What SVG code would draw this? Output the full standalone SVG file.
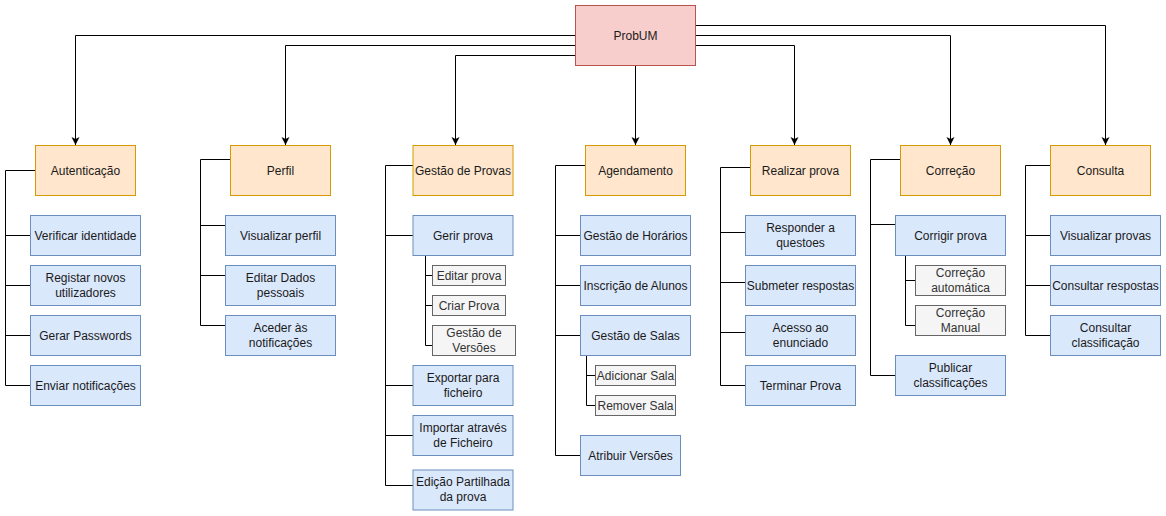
<svg xmlns="http://www.w3.org/2000/svg" width="1166" height="516" viewBox="0 0 1166 516">
<defs>
<marker id="arr" markerWidth="10" markerHeight="10" refX="8" refY="4" orient="auto" markerUnits="userSpaceOnUse">
<path d="M0,0 L8,4 L0,8 L2,4 Z" fill="#000"/>
</marker>
<style>
text{font-family:"Liberation Sans",Arial,Helvetica,sans-serif;font-size:12px;fill:#1a1a1a;text-anchor:middle}
.root rect{fill:#f8cecc;stroke:#b85450;stroke-width:1}
.cat rect{fill:#ffe6cc;stroke:#d79b00;stroke-width:1}
.leaf rect{fill:#dae8fc;stroke:#6c8ebf;stroke-width:1}
.sub rect{fill:#f5f5f5;stroke:#666666;stroke-width:1}
.sub text{fill:#333333}
.c{fill:none;stroke:#000;stroke-width:1}
.a{fill:none;stroke:#000;stroke-width:1;marker-end:url(#arr)}
</style>
</defs>
<rect width="1166" height="516" fill="#fff"/>

<g id="connectors">
<!-- root connectors -->
<path class="a" d="M575.5,35.5 H75.5 V145"/>
<path class="a" d="M575.5,45.5 H285.5 V145"/>
<path class="a" d="M575.5,55.5 H455.5 V145"/>
<path class="a" d="M635.5,65.5 V145"/>
<path class="a" d="M695.5,45.5 H794.5 V145"/>
<path class="a" d="M695.5,35.5 H950.5 V145"/>
<path class="a" d="M695.5,25.5 H1105.5 V145"/>
<!-- Autenticação -->
<path class="c" d="M35,170.5 H5.5 V385.5 H30 M5.5,235.5 H30 M5.5,285.5 H30 M5.5,335.5 H30"/>
<!-- Perfil -->
<path class="c" d="M230,159.5 H200.5 V325.5 H225 M200.5,225.5 H225 M200.5,275.5 H225"/>
<!-- Gestão de Provas -->
<path class="c" d="M413,165.5 H385.5 V485.5 H413 M385.5,235.5 H413 M385.5,385.5 H413 M385.5,435.5 H413"/>
<path class="c" d="M425.5,255 V345.5 H432 M425.5,275.5 H432 M425.5,305.5 H432"/>
<!-- Agendamento -->
<path class="c" d="M585,165.5 H555.5 V455.5 H580 M555.5,235.5 H580 M555.5,285.5 H580 M555.5,335.5 H580"/>
<path class="c" d="M586.5,355 V405.5 H595 M586.5,375.5 H595"/>
<!-- Realizar prova -->
<path class="c" d="M750,167.5 H720.5 V385.5 H745 M720.5,232.5 H745 M720.5,282.5 H745 M720.5,332.5 H745"/>
<!-- Correção -->
<path class="c" d="M900,159.5 H870.5 V375.5 H895 M870.5,224.5 H895"/>
<path class="c" d="M905.5,255 V325.5 H915 M905.5,280.5 H915"/>
<!-- Consulta -->
<path class="c" d="M1050,165.5 H1025.5 V335.5 H1050 M1025.5,235.5 H1050 M1025.5,285.5 H1050"/>
</g>

<g id="probum" class="root"><rect x="575.5" y="5.5" width="120" height="60"/><text x="635.5" y="39.5">ProbUM</text></g>

<g id="autenticacao" class="cat"><rect x="35.5" y="145.5" width="100" height="50"/><text x="85.5" y="174.5">Autenticação</text></g>
<g id="verificar" class="leaf"><rect x="30.5" y="215.5" width="110" height="40"/><text x="85.5" y="239.5">Verificar identidade</text></g>
<g id="registar" class="leaf"><rect x="30.5" y="265.5" width="110" height="40"/><text x="85.5" y="281.5">Registar novos</text><text x="85.5" y="296.5">utilizadores</text></g>
<g id="gerar" class="leaf"><rect x="30.5" y="315.5" width="110" height="40"/><text x="85.5" y="339.5">Gerar Passwords</text></g>
<g id="enviar" class="leaf"><rect x="30.5" y="365.5" width="110" height="40"/><text x="85.5" y="389.5">Enviar notificações</text></g>

<g id="perfil" class="cat"><rect x="230.5" y="145.5" width="100" height="50"/><text x="280.5" y="174.5">Perfil</text></g>
<g id="visualizar-perfil" class="leaf"><rect x="225.5" y="215.5" width="110" height="40"/><text x="280.5" y="239.5">Visualizar perfil</text></g>
<g id="editar-dados" class="leaf"><rect x="225.5" y="265.5" width="110" height="40"/><text x="280.5" y="281.5">Editar Dados</text><text x="280.5" y="296.5">pessoais</text></g>
<g id="aceder" class="leaf"><rect x="225.5" y="315.5" width="110" height="40"/><text x="280.5" y="331.5">Aceder às</text><text x="280.5" y="346.5">notificações</text></g>

<g id="gestao-provas" class="cat"><rect x="413" y="145.5" width="100" height="50"/><text x="463" y="174.5">Gestão de Provas</text></g>
<g id="gerir-prova" class="leaf"><rect x="413" y="215.5" width="100" height="40"/><text x="463" y="239.5">Gerir prova</text></g>
<g id="editar-prova" class="sub"><rect x="432.5" y="265.5" width="73" height="20"/><text x="469" y="279.5">Editar prova</text></g>
<g id="criar-prova" class="sub"><rect x="432.5" y="295.5" width="73" height="20"/><text x="469" y="309.5">Criar Prova</text></g>
<g id="gestao-versoes" class="sub"><rect x="432.5" y="325.5" width="83" height="30"/><text x="474" y="336.5">Gestão de</text><text x="474" y="351.5">Versões</text></g>
<g id="exportar" class="leaf"><rect x="413" y="365.5" width="100" height="40"/><text x="463" y="381.5">Exportar para</text><text x="463" y="396.5">ficheiro</text></g>
<g id="importar" class="leaf"><rect x="413" y="415.5" width="100" height="40"/><text x="463" y="431.5">Importar através</text><text x="463" y="446.5">de Ficheiro</text></g>
<g id="edicao" class="leaf"><rect x="413" y="470" width="100" height="40"/><text x="463" y="486">Edição Partilhada</text><text x="463" y="501">da prova</text></g>

<g id="agendamento" class="cat"><rect x="585.5" y="145.5" width="100" height="50"/><text x="635.5" y="174.5">Agendamento</text></g>
<g id="horarios" class="leaf"><rect x="580.5" y="215.5" width="110" height="40"/><text x="635.5" y="239.5">Gestão de Horários</text></g>
<g id="inscricao" class="leaf"><rect x="580.5" y="265.5" width="110" height="40"/><text x="635.5" y="289.5">Inscrição de Alunos</text></g>
<g id="salas" class="leaf"><rect x="580.5" y="315.5" width="110" height="40"/><text x="635.5" y="339.5">Gestão de Salas</text></g>
<g id="adicionar-sala" class="sub"><rect x="595.5" y="365.5" width="80" height="20"/><text x="635.5" y="379.5">Adicionar Sala</text></g>
<g id="remover-sala" class="sub"><rect x="595.5" y="395.5" width="80" height="20"/><text x="635.5" y="409.5">Remover Sala</text></g>
<g id="atribuir" class="leaf"><rect x="580.5" y="435.5" width="100" height="40"/><text x="630.5" y="459.5">Atribuir Versões</text></g>

<g id="realizar" class="cat"><rect x="750.5" y="145.5" width="100" height="50"/><text x="800.5" y="174.5">Realizar prova</text></g>
<g id="responder" class="leaf"><rect x="745.5" y="215.5" width="110" height="40"/><text x="800.5" y="231.5">Responder a</text><text x="800.5" y="246.5">questoes</text></g>
<g id="submeter" class="leaf"><rect x="745.5" y="265.5" width="110" height="40"/><text x="800.5" y="289.5">Submeter respostas</text></g>
<g id="acesso" class="leaf"><rect x="745.5" y="315.5" width="110" height="40"/><text x="800.5" y="331.5">Acesso ao</text><text x="800.5" y="346.5">enunciado</text></g>
<g id="terminar" class="leaf"><rect x="745.5" y="365.5" width="110" height="40"/><text x="800.5" y="389.5">Terminar Prova</text></g>

<g id="correcao" class="cat"><rect x="900.5" y="145.5" width="100" height="50"/><text x="950.5" y="174.5">Correção</text></g>
<g id="corrigir" class="leaf"><rect x="895.5" y="215.5" width="110" height="40"/><text x="950.5" y="239.5">Corrigir prova</text></g>
<g id="automatica" class="sub"><rect x="915.5" y="265.5" width="90" height="30"/><text x="960.5" y="276.5">Correção</text><text x="960.5" y="291.5">automática</text></g>
<g id="manual" class="sub"><rect x="915.5" y="305.5" width="90" height="30"/><text x="960.5" y="316.5">Correção</text><text x="960.5" y="331.5">Manual</text></g>
<g id="publicar" class="leaf"><rect x="895.5" y="355.5" width="110" height="40"/><text x="950.5" y="371.5">Publicar</text><text x="950.5" y="386.5">classificações</text></g>

<g id="consulta" class="cat"><rect x="1050.5" y="145.5" width="100" height="50"/><text x="1100.5" y="174.5">Consulta</text></g>
<g id="visualizar-provas" class="leaf"><rect x="1050.5" y="215.5" width="110" height="40"/><text x="1105.5" y="239.5">Visualizar provas</text></g>
<g id="consultar-respostas" class="leaf"><rect x="1050.5" y="265.5" width="110" height="40"/><text x="1105.5" y="289.5">Consultar respostas</text></g>
<g id="consultar-classificacao" class="leaf"><rect x="1050.5" y="315.5" width="110" height="40"/><text x="1105.5" y="331.5">Consultar</text><text x="1105.5" y="346.5">classificação</text></g>
</svg>
